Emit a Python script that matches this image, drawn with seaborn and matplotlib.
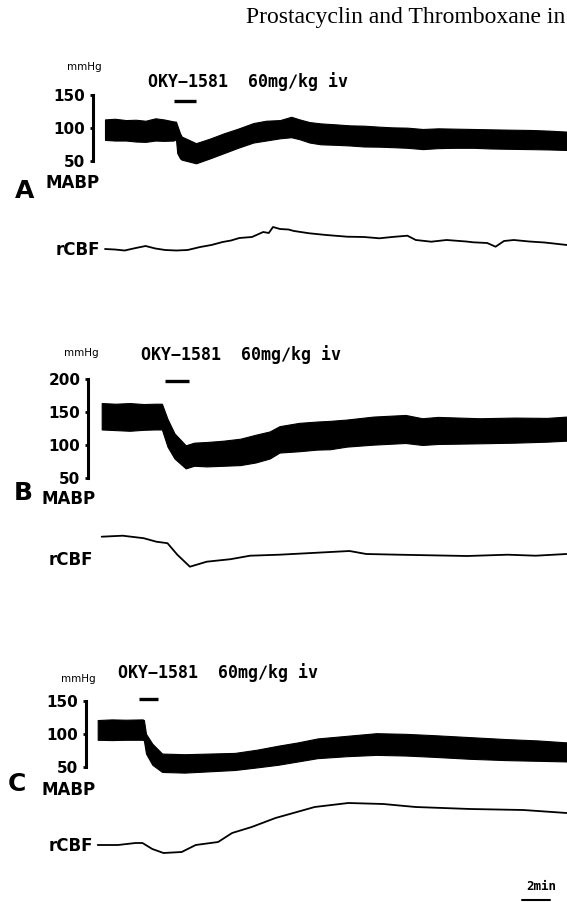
import numpy as np
import pandas as pd
import seaborn as sns
from matplotlib import pyplot as plt

sns.set_theme(style="white")
plt.rcParams["font.family"] = ["DejaVu Sans"]
plt.rcParams["text.color"] = "black"

# ---- data: time in min from start of each record ----
# A
a_bp_t   = [0, 0.7, 1.5, 2.2, 2.9, 3.6, 4.2, 4.9, 5.07, 5.16, 5.36, 5.48, 6.5, 7.5, 8.5, 9.5, 10.6, 11.5,
            12.5, 13.3, 13.9, 14.6, 15.4, 16.5, 17.5, 18.5, 19.6, 20.5, 21.6, 22.7, 23.8, 25.0, 26.3,
            27.5, 28.8, 30.4, 31.7, 33.0]
a_bp_sys = [113, 114, 112, 112.5, 111, 114.7, 113, 110, 109.6, 104, 92, 87, 77, 84, 92, 99, 107.5, 111,
            112, 117, 113, 109, 107, 105.5, 104, 103.5, 102, 101, 100.5, 98.5, 99.5, 99, 98.5,
            98, 97.5, 97, 96, 94.5]
a_bp_dia = [82, 81, 81, 79.5, 79, 81, 80.5, 81, 83, 62, 54, 52, 46.5, 54, 62, 70, 78, 81,
            84.4, 86, 83, 78, 75.3, 74.5, 73.5, 72, 71.7, 71, 70, 68, 69.5, 70, 70,
            69, 68.5, 68, 67.5, 66.7]
a_cbf_t  = [0, 0.7, 1.4, 2.2, 2.9, 3.6, 4.3, 5.1, 5.9, 6.8, 7.6, 8.4, 9.0, 9.6, 10.5, 11.3, 11.7, 12.0,
            12.5, 13.1, 13.5, 14.6, 15.8, 17.3, 18.5, 19.6, 20.5, 21.6, 22.2, 23.3, 24.4, 25.8, 26.3,
            27.3, 27.9, 28.5, 29.2, 30.3, 31.4, 33.0]
a_cbf    = [100, 99.5, 98.5, 101, 103, 100.5, 99, 98.5, 99, 102, 104, 107, 108.5, 111, 112, 117, 116, 122,
            120, 119.5, 118, 115.7, 114, 112.3, 112, 110.7, 112, 113.3, 109, 107.3, 109, 107.5, 106.7,
            106, 102.3, 108, 109, 107.5, 106.5, 104]
a_drug   = [4.9, 6.5]
a_ticks  = [50, 100, 150]

# B
b_bp_t   = [0, 1.0, 2.0, 3.0, 3.8, 4.3, 4.7, 5.2, 6.0, 6.6, 7.5, 8.7, 9.9, 11.0, 12.0, 12.7, 14.1, 15.4,
            16.3, 17.5, 19.4, 21.7, 22.9, 24.0, 27.0, 29.5, 31.8, 33.2]
b_bp_sys = [164, 163, 164, 162.5, 163, 163, 140, 118, 100, 104, 105, 107, 110, 116, 121, 129, 134, 136,
            137, 139, 143.5, 146, 141, 143, 141, 142, 141.5, 143.5]
b_bp_dia = [124, 123, 122, 123.5, 124, 124, 98, 80, 65, 69, 68, 69, 70, 74, 80, 89, 91, 93.5,
            94, 98, 101, 103.5, 100.5, 102, 103, 104, 105.5, 107]
b_cbf_t  = [0, 1.5, 3.0, 3.9, 4.7, 5.4, 6.3, 7.5, 9.2, 10.6, 12.7, 15.4, 17.7, 18.9, 21.2, 26.1, 29.0, 31.0, 33.2]
b_cbf    = [100, 101, 98.5, 95, 93.5, 82, 70, 75, 77.5, 81, 82, 84, 85.7, 82.7, 82, 80.7, 82, 81, 82.7]
b_drug   = [4.5, 6.2]
b_ticks  = [50, 100, 150, 200]

# C
c_bp_t   = [0, 1.0, 2.0, 3.2, 3.3, 3.45, 3.9, 4.6, 6.2, 8.0, 9.8, 11.4, 12.9, 14.3, 15.7, 17.8, 19.9,
            22.0, 24.0, 26.6, 29.2, 31.4, 33.5]
c_bp_sys = [121, 122, 121.5, 122, 121, 100, 85, 70, 69, 70, 71, 76, 82, 87, 93, 97, 101,
            100, 98, 95, 92, 90, 87]
c_bp_dia = [91, 90.5, 91, 91, 90, 70, 53, 42, 41, 43, 45, 49, 53, 58, 63, 66, 68,
            67, 65, 62, 60, 59, 58]
c_cbf_t  = [0, 1.45, 2.7, 3.2, 3.9, 4.7, 6.0, 7.0, 8.6, 9.6, 11.0, 12.7, 15.5, 17.9, 20.4, 22.7, 26.6, 30.4, 33.5]
c_cbf    = [100, 100, 102, 102, 96, 92, 93, 100, 103, 112, 118, 127, 138, 142, 141, 138, 136, 135, 132]
c_drug   = [2.95, 4.3]
c_ticks  = [50, 100, 150]

scale_min = 2

W, H = 567, 902
PPM = 14.0  # px per minute

panels = [
    dict(letter="A", t=a_bp_t, sys=a_bp_sys, dia=a_bp_dia, ct=a_cbf_t, cbf=a_cbf, drug=a_drug, ticks=a_ticks,
         spine=93, start=105, scale=(150, 95, 50, 161), ylim=(35, 160), cbf_base=249, cbf_ylim=(85, 130),
         drug_px=101, let_xy=(25, 191), mabp_xy=(73, 183.5), mmhg_xy=(84.5, 67), oky_xy=(148, 82), rcbf_xy=(100, 250)),
    dict(letter="B", t=b_bp_t, sys=b_bp_sys, dia=b_bp_dia, ct=b_cbf_t, cbf=b_cbf, drug=b_drug, ticks=b_ticks,
         spine=88, start=101.7, scale=(200, 379.3, 50, 478.3), ylim=(45, 210), cbf_base=536.7, cbf_ylim=(60, 115),
         drug_px=381, let_xy=(23.5, 492.5), mabp_xy=(69, 499.5), mmhg_xy=(81.5, 353), oky_xy=(141, 355), rcbf_xy=(93, 560)),
    dict(letter="C", t=c_bp_t, sys=c_bp_sys, dia=c_bp_dia, ct=c_cbf_t, cbf=c_cbf, drug=c_drug, ticks=c_ticks,
         spine=86, start=97.7, scale=(150, 701, 50, 766.7), ylim=(35, 160), cbf_base=845, cbf_ylim=(85, 150),
         drug_px=699.3, let_xy=(16.5, 784), mabp_xy=(68.5, 790), mmhg_xy=(78.5, 679), oky_xy=(117.5, 673), rcbf_xy=(93, 846)),
]

fig = plt.figure(figsize=(W / 100, H / 100), dpi=100)


def box(left, top, right, bottom):
    return [left / W, 1 - bottom / H, (right - left) / W, (bottom - top) / H]


def ftext(x, y, s, **kw):
    fig.text(x / W, 1 - y / H, s, **kw)


for p in panels:
    xlim = ((p["spine"] - p["start"]) / PPM, (W - p["start"]) / PPM)
    v1, y1, v2, y2 = p["scale"]
    pxpm = (y2 - y1) / (v1 - v2)
    lo, hi = p["ylim"]
    top_px = y1 - (hi - v1) * pxpm
    bot_px = y2 + (v2 - lo) * pxpm

    # MABP band
    ax = fig.add_axes(box(p["spine"], top_px, W, bot_px))
    bp = pd.DataFrame({"t": p["t"], "sys": p["sys"], "dia": p["dia"]})
    ax.fill_between(bp["t"], bp["dia"], bp["sys"], color="black", linewidth=0.8)
    drug_val = v1 - (p["drug_px"] - y1) / pxpm
    ax.hlines(drug_val, p["drug"][0], p["drug"][1], color="black", linewidth=2.4, clip_on=False)
    ax.set_xlim(*xlim)
    ax.set_ylim(lo, hi)
    for s in ["top", "right", "bottom"]:
        ax.spines[s].set_visible(False)
    ax.spines["left"].set_bounds(p["ticks"][0], p["ticks"][-1])
    ax.spines["left"].set_linewidth(2.2)
    ax.spines["left"].set_color("black")
    ax.set_xticks([])
    ax.set_yticks(p["ticks"])
    ax.tick_params(axis="y", left=True, length=2.5, width=2, direction="out", pad=3,
                   labelsize=11, colors="black")
    for lab in ax.get_yticklabels():
        lab.set_fontweight("bold")
    ax.patch.set_alpha(0)

    # rCBF trace
    cx = fig.add_axes(box(p["spine"], p["cbf_base"] - (p["cbf_ylim"][1] - 100),
                          W, p["cbf_base"] + (100 - p["cbf_ylim"][0])))
    cbf = pd.DataFrame({"t": p["ct"], "rCBF": p["cbf"]})
    sns.lineplot(data=cbf, x="t", y="rCBF", ax=cx, color="black", linewidth=1.3)
    cx.set_xlim(*xlim)
    cx.set_ylim(*p["cbf_ylim"])
    cx.set_axis_off()

    # labels
    ftext(*p["let_xy"], p["letter"], fontsize=18, fontweight="bold", ha="center", va="center")
    ftext(*p["mabp_xy"], "MABP", fontsize=12, fontweight="bold", ha="center", va="center")
    ftext(*p["mmhg_xy"], "mmHg", fontsize=7.5, ha="center", va="center")
    ftext(*p["oky_xy"], "OKY\u22121581  60mg\u2215kg iv", fontsize=12, family="DejaVu Sans Mono",
          fontweight="bold", ha="left", va="center")
    ftext(*p["rcbf_xy"], "rCBF", fontsize=12, fontweight="bold", ha="right", va="center")

    last_cx = cx
    last_start = p["start"]

# time scale bar
t0 = (522 - last_start) / PPM
cx = last_cx
bb = cx.get_position()
y_bar = ((1 - 900 / H) - bb.y0) / bb.height
cx.plot([t0, t0 + scale_min], [y_bar, y_bar], transform=cx.get_xaxis_transform(),
        color="black", linewidth=1.5, clip_on=False)
ftext(541, 886, f"{scale_min}min", fontsize=9, family="DejaVu Sans Mono", fontweight="bold",
      ha="center", va="center")

ftext(565, 18, "Prostacyclin and Thromboxane in", fontsize=17, family="Liberation Serif",
      ha="right", va="center")

fig.savefig("out.png", dpi=100)
